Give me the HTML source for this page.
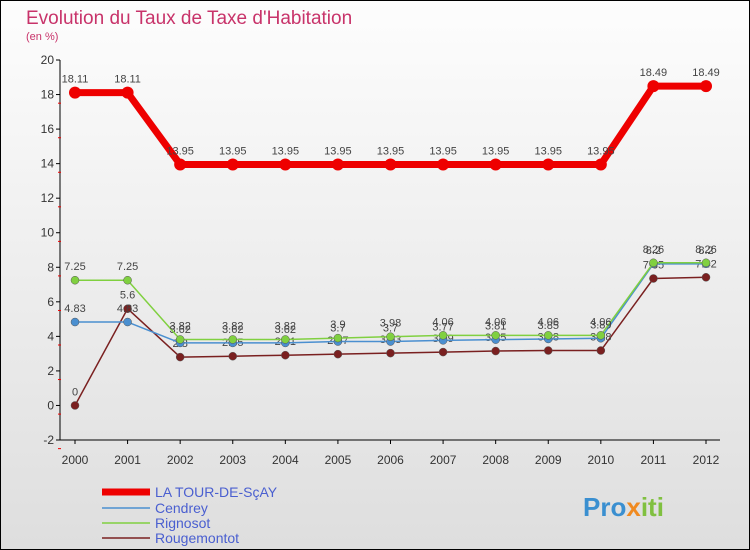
<!DOCTYPE html>
<html><head><meta charset="utf-8"><style>
body{margin:0;}
#wrap{width:750px;height:550px;position:relative;overflow:hidden;font-family:"Liberation Sans",sans-serif;}
</style></head><body>
<div id="wrap">
<svg id="chart" width="750" height="550" xmlns="http://www.w3.org/2000/svg">
<defs><linearGradient id="bg" x1="0" y1="0" x2="0" y2="1"><stop offset="0" stop-color="#fdfdfd"/><stop offset="1" stop-color="#dedede"/></linearGradient></defs>
<rect x="0.5" y="0.5" width="749" height="549" fill="url(#bg)" stroke="#000"/>
<text x="26" y="24" font-size="19" fill="#c8336a">Evolution du Taux de Taxe d'Habitation</text>
<text x="26" y="40" font-size="11" fill="#c8336a">(en %)</text>
<g id="axes"></g>
<g id="series"></g>
<g>
<line x1="102" y1="492" x2="150" y2="492" stroke="#ee0000" stroke-width="7"/>
<text x="155" y="497" font-size="14" fill="#4a5fd0">LA TOUR-DE-SçAY</text>
<line x1="102" y1="508" x2="150" y2="508" stroke="#4a8fd0" stroke-width="1.5"/>
<text x="155" y="513" font-size="14" fill="#4a5fd0">Cendrey</text>
<line x1="102" y1="523" x2="150" y2="523" stroke="#80d040" stroke-width="1.5"/>
<text x="155" y="528" font-size="14" fill="#4a5fd0">Rignosot</text>
<line x1="102" y1="538" x2="150" y2="538" stroke="#7a2020" stroke-width="1.5"/>
<text x="155" y="543" font-size="14" fill="#4a5fd0">Rougemontot</text>
</g>
<text x="583" y="516" font-size="26" font-weight="bold"><tspan fill="#3a8fd0">Pro</tspan><tspan fill="#f08a20">x</tspan><tspan fill="#80c040">iti</tspan></text>
</svg>
</div>
<script>
const years=[2000,2001,2002,2003,2004,2005,2006,2007,2008,2009,2010,2011,2012];
const yTicks=[-2,0,2,4,6,8,10,12,14,16,18,20];
const laTour=[18.11,18.11,13.95,13.95,13.95,13.95,13.95,13.95,13.95,13.95,13.95,18.49,18.49];
const cendrey=[4.83,4.83,3.62,3.62,3.62,3.7,3.7,3.77,3.81,3.85,3.89,8.2,8.2];
const rignosot=[7.25,7.25,3.82,3.82,3.82,3.9,3.98,4.06,4.06,4.06,4.06,8.26,8.26];
const rougemontot=[0,5.6,2.8,2.85,2.91,2.97,3.03,3.09,3.15,3.18,3.18,7.35,7.42];
const NS="http://www.w3.org/2000/svg";
function X(i){return 75+i*(706-75)/(years.length-1);}
function Y(v){return 60+(20-v)*(440-60)/22;}
function mk(tag,attrs,parent){const e=document.createElementNS(NS,tag);for(const k in attrs)e.setAttribute(k,attrs[k]);parent.appendChild(e);return e;}
const axes=document.getElementById('axes'),ser=document.getElementById('series');
let a=mk('line',{x1:60,y1:60,x2:60,y2:440,stroke:'#000'},axes);


a=mk('line',{x1:60,y1:440,x2:720,y2:440,stroke:'#000'},axes);


yTicks.forEach(t=>{const y=Y(t);
 mk('line',{x1:56,y1:y,x2:60,y2:y,stroke:'#000'},axes);
 if(t<20) mk('line',{x1:58,y1:y+(440-60)/44,x2:61,y2:y+(440-60)/44,stroke:'#e00'},axes);
 const tx=mk('text',{x:54,y:y+4,'font-size':12,'text-anchor':'end',fill:'#333'},axes);tx.textContent=t;
 
 });
years.forEach((yr,i)=>{const x=X(i);
 mk('line',{x1:x,y1:440,x2:x,y2:444,stroke:'#000'},axes);
 const tx=mk('text',{x:x,y:464,'font-size':12,'text-anchor':'middle',fill:'#333'},axes);tx.textContent=yr;
 
 });
function draw(vals,color,w,r,name){
 const g=mk('g',{},ser);
 
 
 const p=mk('polyline',{points:vals.map((v,i)=>X(i)+','+Y(v)).join(' '),fill:'none',stroke:color,'stroke-width':w,'stroke-linejoin':'round'},g);
 
 
 vals.forEach((v,i)=>{
  const c=mk('circle',{cx:X(i),cy:Y(v),r:r,fill:color,stroke:'#555','stroke-width':w>4?0:0.5},g);
  
  
  const t=mk('text',{x:X(i),y:Y(v)-10,'font-size':11,'text-anchor':'middle',fill:'#444'},g);t.textContent=v;
  
  });
}
draw(rougemontot,'#7a2020',1.5,4,'rougemontot');
draw(cendrey,'#4a8fd0',1.5,4,'cendrey');
draw(rignosot,'#80d040',1.5,4,'rignosot');
draw(laTour,'#ee0000',7,6,'la-tour');
</script>
</body></html>
